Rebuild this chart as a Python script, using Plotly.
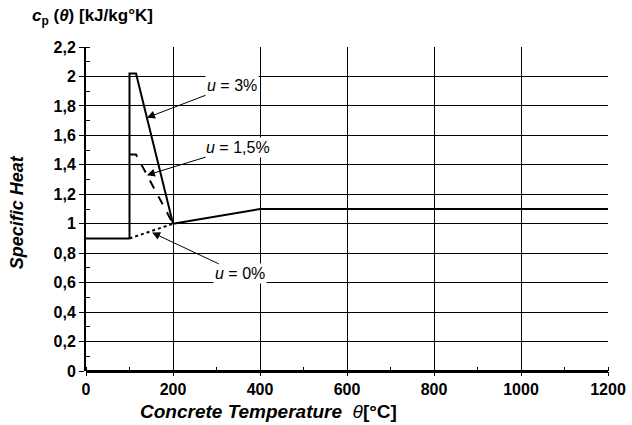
import plotly.graph_objects as go

# Data (temperature in °C, specific heat in kJ/kg°K)
base_x = [0, 100]
base_y = [0.9, 0.9]
u0_x = [100, 200]
u0_y = [0.9, 1.0]
u3_x = [100, 100, 115, 200]
u3_y = [0.9, 2.02, 2.02, 1.0]
u15_x = [100, 115, 200]
u15_y = [1.47, 1.47, 1.0]
high_x = [200, 400, 1200]
high_y = [1.0, 1.1, 1.1]

x_ticks = [0, 200, 400, 600, 800, 1000, 1200]
y_ticks = [0, 0.2, 0.4, 0.6, 0.8, 1.0, 1.2, 1.4, 1.6, 1.8, 2.0, 2.2]
y_ticktext = ["0", "0,2", "0,4", "0,6", "0,8", "1", "1,2", "1,4", "1,6", "1,8", "2", "2,2"]

FONT = "Liberation Sans, Arial, sans-serif"

fig = go.Figure()
fig.add_trace(go.Scatter(x=base_x, y=base_y, mode="lines", line=dict(color="black", width=2)))
fig.add_trace(go.Scatter(x=u0_x, y=u0_y, mode="lines", line=dict(color="black", width=2, dash="dot")))
fig.add_trace(go.Scatter(x=u3_x, y=u3_y, mode="lines", line=dict(color="black", width=2)))
fig.add_trace(go.Scatter(x=u15_x, y=u15_y, mode="lines", line=dict(color="black", width=2, dash="dash")))
fig.add_trace(go.Scatter(x=high_x, y=high_y, mode="lines", line=dict(color="black", width=2)))

fig.update_layout(
    width=632, height=425,
    margin=dict(l=86, r=24, t=47, b=54, autoexpand=False),
    paper_bgcolor="white", plot_bgcolor="white",
    showlegend=False,
    font=dict(family=FONT, color="black"),
)
fig.update_xaxes(
    range=[0, 1200], tickvals=x_ticks, automargin=False,
    showgrid=True, gridcolor="black", gridwidth=1,
    zeroline=False, showline=False,
    ticks="outside", ticklen=4, tickcolor="black",
    minor=dict(ticks="inside", dtick=100, ticklen=4, tickcolor="black", showgrid=False),
    tickfont=dict(size=16, family=FONT, weight="bold"),
)
fig.update_yaxes(
    range=[0, 2.2], tickvals=y_ticks, ticktext=y_ticktext, automargin=False,
    showgrid=True, gridcolor="black", gridwidth=1,
    zeroline=True, zerolinecolor="black", zerolinewidth=3,
    showline=True, linecolor="black", linewidth=2,
    ticks="outside", ticklen=5, tickcolor="black",
    minor=dict(ticks="inside", dtick=0.1, ticklen=4, tickcolor="black", showgrid=False),
    tickfont=dict(size=16, family=FONT, weight="bold"),
)

ann_font = dict(size=16, family=FONT, color="black")
arrow = dict(showarrow=True, arrowhead=2, arrowsize=1.6, arrowwidth=1,
             arrowcolor="black", axref="x", ayref="y")
fig.add_annotation(x=140, y=1.72, ax=335, ay=1.94, text="<i>u</i> = 3%",
                   font=ann_font, bgcolor="white", **arrow)
fig.add_annotation(x=140, y=1.33, ax=350, ay=1.52, text="<i>u</i> = 1,5%",
                   font=ann_font, bgcolor="white", **arrow)
fig.add_annotation(x=152, y=0.94, ax=354, ay=0.66, text="<i>u</i> = 0%",
                   font=ann_font, bgcolor="white", **arrow)

fig.add_annotation(xref="paper", yref="paper", x=-0.108, y=1.052, xanchor="left", yanchor="bottom",
                   text="<b><i>c</i><sub>p</sub> (<i>θ</i>) [kJ/kg°K]</b>", showarrow=False,
                   font=dict(size=17, family=FONT))
fig.add_annotation(xref="paper", yref="paper", x=-0.132, y=0.49, textangle=-90,
                   xanchor="center", yanchor="middle",
                   text="<b><i>Specific Heat</i></b>", showarrow=False,
                   font=dict(size=18, family=FONT))
fig.add_annotation(xref="paper", yref="paper", x=0.349, y=-0.125, xanchor="center", yanchor="middle",
                   text="<b><i>Concrete Temperature</i></b>  <i>θ</i><b>[°C]</b>", showarrow=False,
                   font=dict(size=19, family=FONT))

fig.write_html("out.html")
